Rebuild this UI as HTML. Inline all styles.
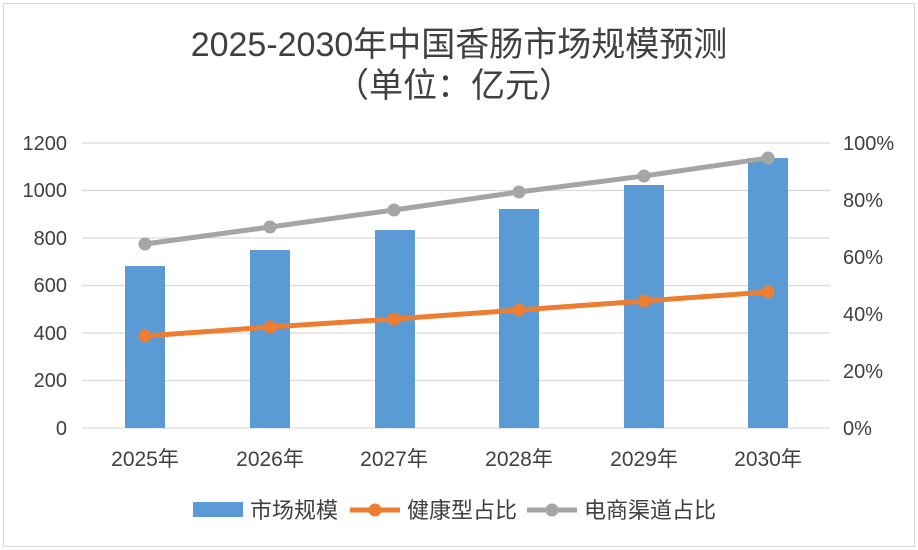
<!DOCTYPE html>
<html><head><meta charset="utf-8"><style>
body{margin:0;background:#fff;}
svg{display:block;font-family:"Liberation Sans","Noto Sans CJK SC",sans-serif;}
</style></head><body>
<svg width="918" height="550" viewBox="0 0 918 550">
<rect x="0" y="0" width="918" height="550" fill="#fff"/>
<rect x="3.5" y="3.5" width="911" height="543" fill="none" stroke="#d9d9d9"/>
<text x="459" y="56" text-anchor="middle" font-size="34" fill="#404040">2025-2030年中国香肠市场规模预测</text>
<text x="454" y="97" text-anchor="middle" font-size="34" fill="#404040">（单位：亿元）</text>
<g stroke="#d9d9d9" stroke-width="1.3">
<line x1="82" x2="830" y1="143" y2="143"/>
<line x1="82" x2="830" y1="190.5" y2="190.5"/>
<line x1="82" x2="830" y1="238" y2="238"/>
<line x1="82" x2="830" y1="285.5" y2="285.5"/>
<line x1="82" x2="830" y1="333" y2="333"/>
<line x1="82" x2="830" y1="380.5" y2="380.5"/>
<line x1="82" x2="830" y1="428" y2="428"/>
</g>
<g fill="#5b9bd5">
<rect x="125" y="266" width="40" height="162"/>
<rect x="250" y="250" width="40" height="178"/>
<rect x="375" y="230" width="40" height="198"/>
<rect x="499" y="209" width="40" height="219"/>
<rect x="624" y="185" width="40" height="243"/>
<rect x="748" y="158" width="40" height="270"/>
</g>
<polyline points="145,244 270,227 394,210 519,192 644,176 768,158" fill="none" stroke="#a5a5a5" stroke-width="5"/>
<g fill="#a5a5a5"><circle cx="145" cy="244" r="6.5"/><circle cx="270" cy="227" r="6.5"/><circle cx="394" cy="210" r="6.5"/><circle cx="519" cy="192" r="6.5"/><circle cx="644" cy="176" r="6.5"/><circle cx="768" cy="158" r="6.5"/></g>
<polyline points="145,336 270,327 394,319 519,310 644,301 768,292" fill="none" stroke="#ed7d31" stroke-width="5"/>
<g fill="#ed7d31"><circle cx="145" cy="336" r="6.5"/><circle cx="270" cy="327" r="6.5"/><circle cx="394" cy="319" r="6.5"/><circle cx="519" cy="310" r="6.5"/><circle cx="644" cy="301" r="6.5"/><circle cx="768" cy="292" r="6.5"/></g>
<g font-size="20" fill="#404040" text-anchor="end">
<text x="67" y="150">1200</text><text x="67" y="197">1000</text><text x="67" y="245">800</text><text x="67" y="292">600</text><text x="67" y="340">400</text><text x="67" y="387">200</text><text x="67" y="435">0</text>
</g>
<g font-size="20" fill="#404040" text-anchor="start">
<text x="843" y="150">100%</text><text x="843" y="207">80%</text><text x="843" y="264">60%</text><text x="843" y="321">40%</text><text x="843" y="378">20%</text><text x="843" y="435">0%</text>
</g>
<g font-size="21" fill="#404040" text-anchor="middle">
<text x="145" y="466">2025年</text><text x="270" y="466">2026年</text><text x="394" y="466">2027年</text><text x="519" y="466">2028年</text><text x="644" y="466">2029年</text><text x="768" y="466">2030年</text>
</g>
<rect x="193" y="502" width="50" height="15" fill="#5b9bd5"/>
<text x="250" y="518" font-size="22" fill="#404040">市场规模</text>
<line x1="350" x2="400" y1="510" y2="510" stroke="#ed7d31" stroke-width="5"/><circle cx="375" cy="510" r="6.5" fill="#ed7d31"/>
<text x="407" y="518" font-size="22" fill="#404040">健康型占比</text>
<line x1="527" x2="577" y1="510" y2="510" stroke="#a5a5a5" stroke-width="5"/><circle cx="552" cy="510" r="6.5" fill="#a5a5a5"/>
<text x="584" y="518" font-size="22" fill="#404040">电商渠道占比</text>
</svg>
</body></html>
